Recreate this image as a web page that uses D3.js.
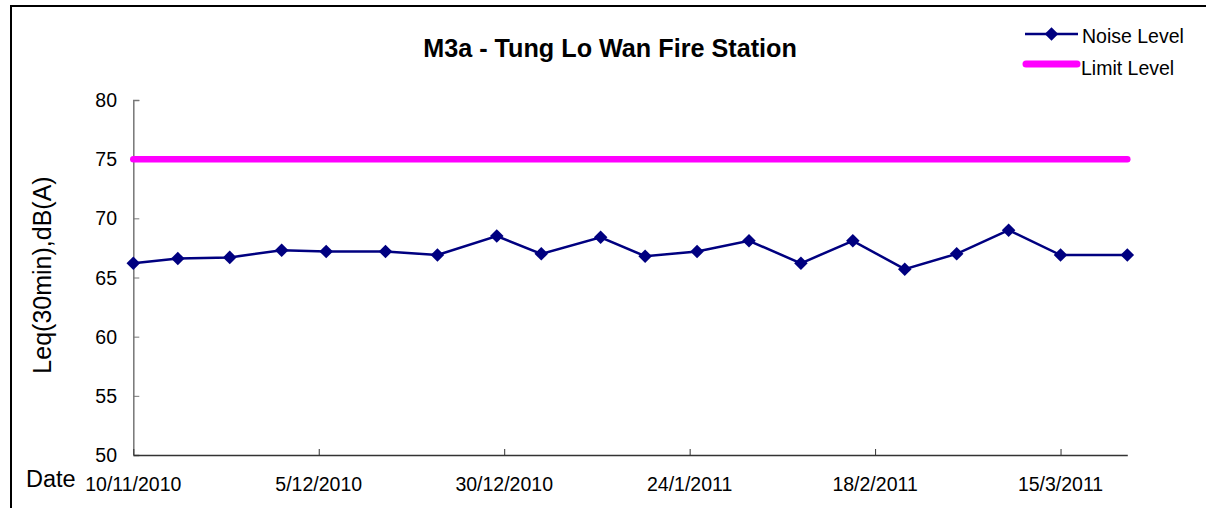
<!DOCTYPE html>
<html>
<head>
<meta charset="utf-8">
<script src="https://cdn.jsdelivr.net/npm/d3@7"></script>
<style>
  body { margin: 0; background: #fff; }
  svg text { font-family: Arial, "Liberation Sans", sans-serif; fill: #000; }
</style>
</head>
<body>
<svg id="chart" width="1206" height="508"></svg>
<script>
// data
const dates = ["2010-11-10","2010-11-16","2010-11-23","2010-11-30","2010-12-06",
  "2010-12-14","2010-12-21","2010-12-29","2011-01-04","2011-01-12",
  "2011-01-18","2011-01-25","2011-02-01","2011-02-08","2011-02-15",
  "2011-02-22","2011-03-01","2011-03-08","2011-03-15","2011-03-24"];
const noiseLevel = [66.2, 66.6, 66.7, 67.3, 67.2, 67.2, 66.9, 68.5, 67.0, 68.4,
  66.8, 67.2, 68.1, 66.2, 68.1, 65.7, 67.0, 69.0, 66.9, 66.9];
const limitLevel = [75, 75, 75, 75, 75, 75, 75, 75, 75, 75,
  75, 75, 75, 75, 75, 75, 75, 75, 75, 75];
const xTickDates = ["2010-11-10","2010-12-05","2010-12-30","2011-01-24","2011-02-18","2011-03-15"];
const yTicks = [50, 55, 60, 65, 70, 75, 80];
const seriesNames = ["Noise Level", "Limit Level"];

const parse = d3.utcParse("%Y-%m-%d");
const fmt = d3.utcFormat("%-d/%-m/%Y");

const svg = d3.select("#chart");

// outer frame (right and bottom edges fall outside the picture)
svg.append("rect")
    .attr("x", 11).attr("y", 6)
    .attr("width", 1400).attr("height", 700)
    .attr("fill", "none").attr("stroke", "#000").attr("stroke-width", 2);

const x = d3.scaleUtc()
    .domain([parse(dates[0]), parse(dates[dates.length - 1])])
    .range([133.3, 1127.3]);
const y = d3.scaleLinear().domain([50, 80]).range([455, 100]);

// y axis, ticks pointing inward
const yAxis = svg.append("g")
    .attr("transform", "translate(133.3,0)")
    .call(d3.axisRight(y).tickValues(yTicks).tickSize(6).tickFormat(""));
yAxis.select(".domain").attr("stroke", "#777").attr("stroke-width", 1.5);
yAxis.selectAll(".tick line").attr("stroke", "#777");

svg.append("g").selectAll("text")
    .data(yTicks)
    .join("text")
    .attr("x", 117)
    .attr("y", d => y(d) + 7)
    .attr("text-anchor", "end")
    .style("font-size", "19.5px")
    .text(d => d);

// x axis, ticks pointing up
const xAxis = svg.append("g")
    .attr("transform", "translate(0,455)")
    .call(d3.axisTop(x).tickValues(xTickDates.map(parse)).tickSize(6).tickSizeOuter(0).tickFormat(""));
xAxis.select(".domain").attr("stroke", "#333").attr("stroke-width", 1.5);
xAxis.selectAll(".tick line").attr("stroke", "#333");

svg.append("g").selectAll("text")
    .data(xTickDates)
    .join("text")
    .attr("x", d => x(parse(d)))
    .attr("y", 490.5)
    .attr("text-anchor", "middle")
    .style("font-size", "19.5px")
    .text(d => fmt(parse(d)));

// axis titles
svg.append("text")
    .attr("x", 26)
    .attr("y", 487)
    .style("font-size", "23.5px")
    .text("Date");

svg.append("text")
    .attr("transform", "translate(51,275) rotate(-90)")
    .attr("text-anchor", "middle")
    .style("font-size", "25px")
    .text("Leq(30min),dB(A)");

// chart title
svg.append("text")
    .attr("x", 610)
    .attr("y", 57)
    .attr("text-anchor", "middle")
    .style("font-size", "25.2px")
    .style("font-weight", "bold")
    .text("M3a - Tung Lo Wan Fire Station");

// limit series
const limitLine = d3.line()
    .x((d, i) => x(parse(dates[i])))
    .y(d => y(d));
svg.append("path")
    .attr("d", limitLine(limitLevel))
    .attr("fill", "none")
    .attr("stroke", "#ff00ff")
    .attr("stroke-width", 6.5)
    .attr("stroke-linecap", "round");

// noise series
const noiseLine = d3.line()
    .x((d, i) => x(parse(dates[i])))
    .y(d => y(d));
svg.append("path")
    .attr("d", noiseLine(noiseLevel))
    .attr("fill", "none")
    .attr("stroke", "#000080")
    .attr("stroke-width", 2.5);

const marker = d3.symbol().type(d3.symbolSquare).size(92);
svg.append("g").selectAll("path")
    .data(noiseLevel)
    .join("path")
    .attr("transform", (d, i) => "translate(" + x(parse(dates[i])) + "," + y(d) + ") rotate(45)")
    .attr("d", marker)
    .attr("fill", "#000080");

// legend
const legend = svg.append("g");
legend.append("line")
    .attr("x1", 1025).attr("x2", 1078).attr("y1", 34).attr("y2", 34)
    .attr("stroke", "#000080").attr("stroke-width", 2.5);
legend.append("path")
    .attr("transform", "translate(1051.5,34) rotate(45)")
    .attr("d", marker)
    .attr("fill", "#000080");
legend.append("line")
    .attr("x1", 1026).attr("x2", 1077).attr("y1", 64).attr("y2", 64)
    .attr("stroke", "#ff00ff").attr("stroke-width", 7).attr("stroke-linecap", "round");
legend.selectAll("text")
    .data(seriesNames)
    .join("text")
    .attr("x", (d, i) => i === 0 ? 1082 : 1081)
    .attr("y", (d, i) => i === 0 ? 43 : 75)
    .style("font-size", "19.5px")
    .text(d => d);
</script>
</body>
</html>
